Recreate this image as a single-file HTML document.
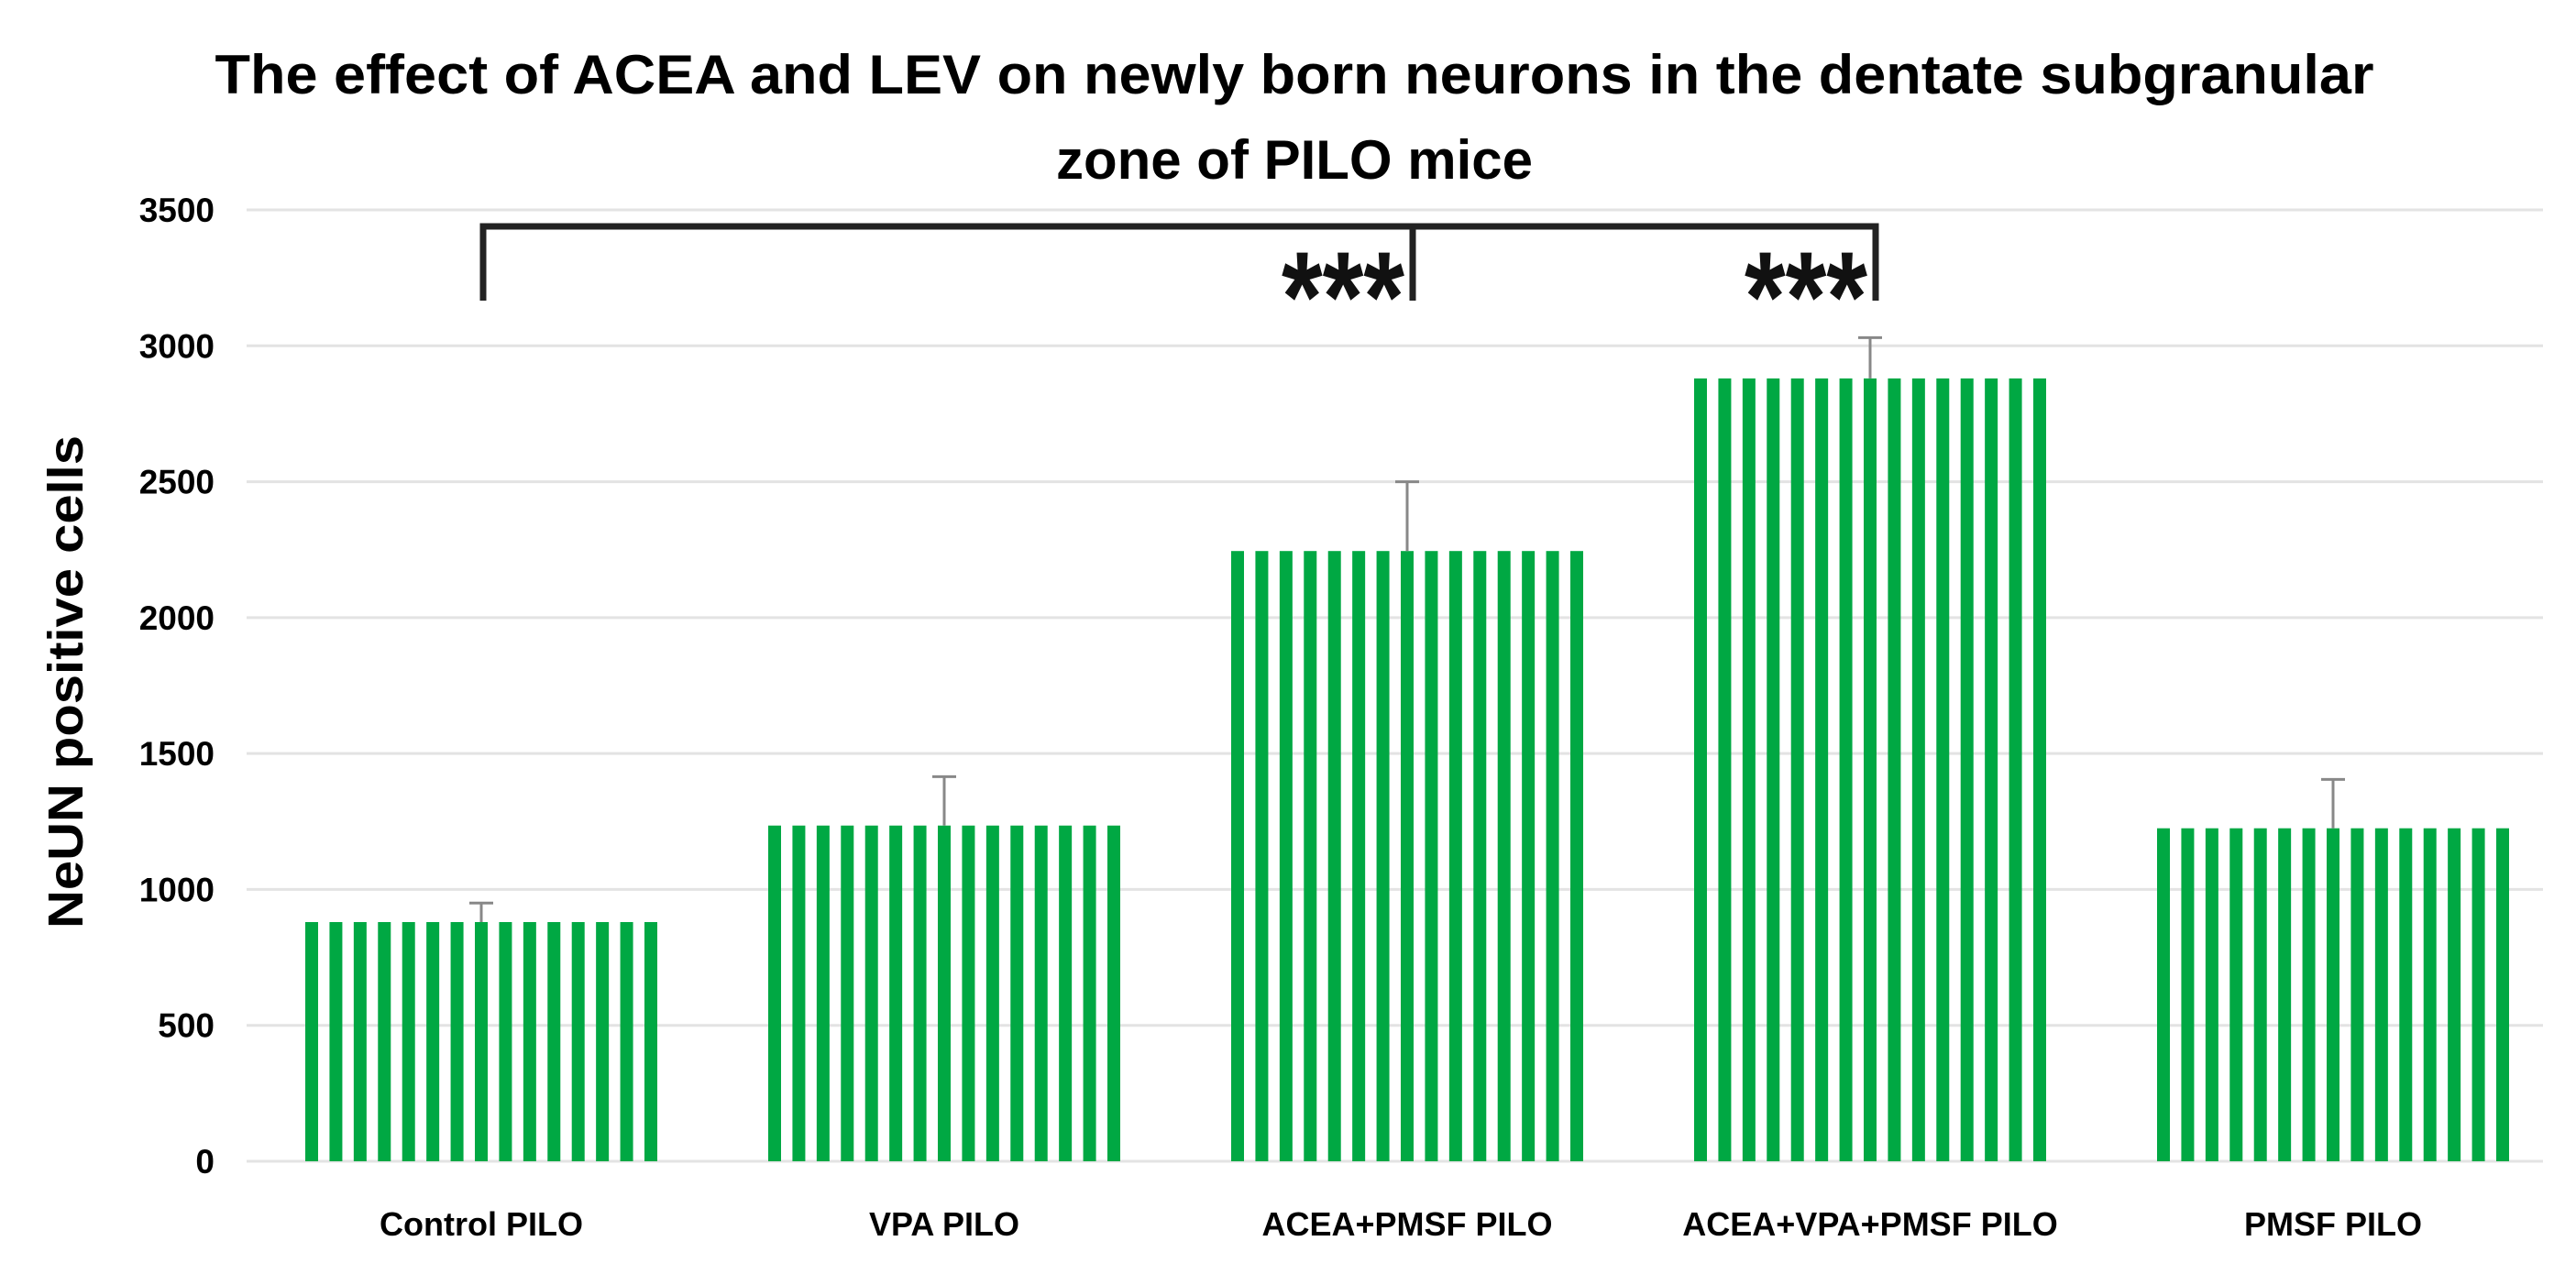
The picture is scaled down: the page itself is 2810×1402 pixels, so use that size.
<!DOCTYPE html>
<html><head><meta charset="utf-8"><style>
html,body{margin:0;padding:0;background:#fff;}
svg{display:block;font-family:"Liberation Sans",Arial,sans-serif;}
</style></head><body>
<svg id="chart" width="2810" height="1402" viewBox="0 0 2810 1402" xmlns="http://www.w3.org/2000/svg">
<g>
<text x="1412" y="102" text-anchor="middle" font-size="60" font-weight="bold" textLength="2355" lengthAdjust="spacingAndGlyphs" fill="#000">The effect of ACEA and LEV on newly born neurons in the dentate subgranular</text>
<text x="1412" y="195" text-anchor="middle" font-size="60" font-weight="bold" fill="#000">zone of PILO mice</text>
</g>
<text transform="translate(90,744) rotate(-90)" text-anchor="middle" font-size="54" font-weight="bold" textLength="538" lengthAdjust="spacingAndGlyphs" fill="#000">NeUN positive cells</text>
<g id="grid"></g><g id="yticks"></g><g id="bars"></g><g id="errs"></g><g id="xlabels"></g>
<g stroke="#222" stroke-width="7" fill="none">
<path d="M527,328 L527,247 L2046,247 L2046,328"/>
<path d="M1541,247 L1541,328"/>
</g>
<text x="1532" y="372" text-anchor="end" font-size="140" font-weight="bold" textLength="134" lengthAdjust="spacingAndGlyphs" fill="#111">***</text>
<text x="2037" y="372" text-anchor="end" font-size="140" font-weight="bold" textLength="134" lengthAdjust="spacingAndGlyphs" fill="#111">***</text>
</svg>
<script>
const categories = ["Control PILO","VPA PILO","ACEA+PMSF PILO","ACEA+VPA+PMSF PILO","PMSF PILO"];
const values = [880,1235,2245,2880,1225];
const errors = [70,180,255,150,180];
const yTicks = [0,500,1000,1500,2000,2500,3000,3500];

const NS="http://www.w3.org/2000/svg";
const X0=269,X1=2774,Y0=1267,Y1=229,YMAX=3500;
const y=v=>Y0-(v/YMAX)*(Y0-Y1);
const band=505;
const xc=i=>525+band*i;
const BW=384;
function mk(tag,attrs,parent){const e=document.createElementNS(NS,tag);for(const k in attrs)e.setAttribute(k,attrs[k]);parent.appendChild(e);return e;}
const grid=document.getElementById('grid'),yt=document.getElementById('yticks'),bars=document.getElementById('bars'),errs=document.getElementById('errs'),xl=document.getElementById('xlabels');
yTicks.forEach(t=>{
  const l=mk('line',{x1:X0,x2:X1,y1:y(t),y2:y(t),stroke:'#e3e3e3','stroke-width':3},grid);
  
  
  const tx=mk('text',{x:234,y:y(t)+13,'text-anchor':'end','font-size':37,'font-weight':'bold',fill:'#000'},yt);
  tx.textContent=t;
  
  
});
categories.forEach((c,i)=>{
  const g=mk('g',{},bars);
  
  
  const left=xc(i)-BW/2,top=y(values[i]),n=15,w=14,gap=(BW-n*w)/(n-1);
  for(let k=0;k<n;k++){mk('rect',{x:left+k*(w+gap),y:top,width:w,height:Y0-top,fill:'#00a843'},g);}
  const e=mk('g',{stroke:'#888','stroke-width':3},errs);
  
  
  const ye=y(values[i]+errors[i]);
  mk('line',{x1:xc(i),x2:xc(i),y1:top,y2:ye},e);
  mk('line',{x1:xc(i)-13,x2:xc(i)+13,y1:ye,y2:ye},e);
  const t=mk('text',{x:xc(i),y:1348,'text-anchor':'middle','font-size':36,'font-weight':'bold',fill:'#000'},xl);
  t.textContent=c;
  
  
});
</script>
</body></html>
